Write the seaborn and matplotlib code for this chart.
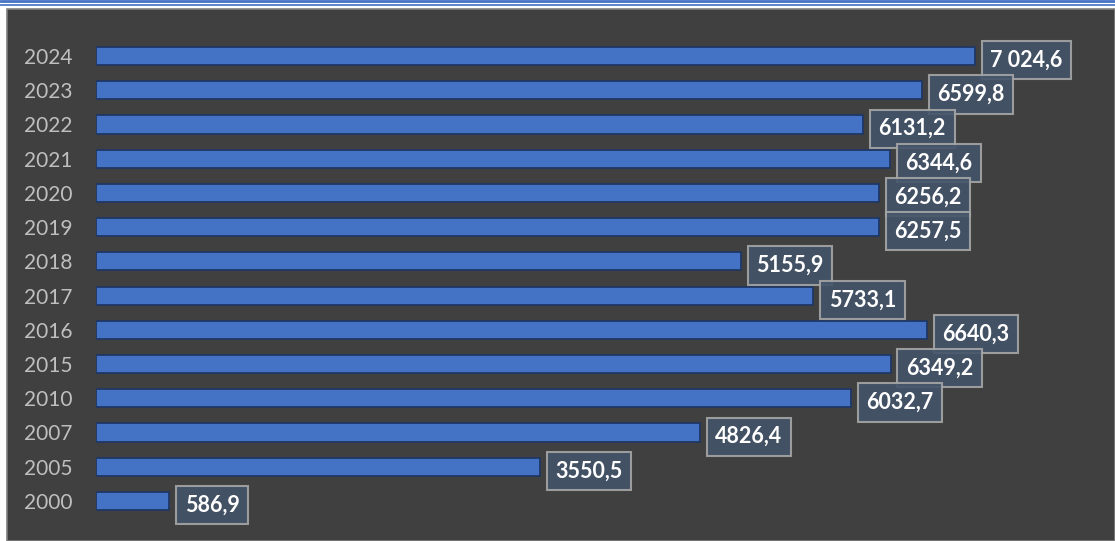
import pandas as pd
import seaborn as sns
import matplotlib.pyplot as plt
from matplotlib.patches import Rectangle
from matplotlib.lines import Line2D

# Data (top to bottom)
years = ['2024', '2023', '2022', '2021', '2020', '2019', '2018',
         '2017', '2016', '2015', '2010', '2007', '2005', '2000']
values = [7024.6, 6599.8, 6131.2, 6344.6, 6256.2, 6257.5, 5155.9,
          5733.1, 6640.3, 6349.2, 6032.7, 4826.4, 3550.5, 586.9]
labels = ['7 024,6', '6599,8', '6131,2', '6344,6', '6256,2', '6257,5', '5155,9',
          '5733,1', '6640,3', '6349,2', '6032,7', '4826,4', '3550,5', '586,9']

df = pd.DataFrame({'year': years, 'value': values})

sns.set_style('white')
plt.rcParams['font.family'] = ['Lato', 'DejaVu Sans']

W, H = 1115, 541
fig = plt.figure(figsize=(W / 100, H / 100), dpi=100, facecolor='white')

# dark panel + double blue line at the top
fig.add_artist(Rectangle((7 / W, 0), 1 - 7 / W, (H - 9) / H, transform=fig.transFigure,
                         facecolor='#404040', edgecolor='#7f7f7f', lw=1.2, zorder=0))
fig.add_artist(Line2D([0, 1], [1 - 1.2 / H, 1 - 1.2 / H], transform=fig.transFigure,
                      color='#4472C4', lw=2.0))
fig.add_artist(Line2D([0, 1], [1 - 5 / H, 1 - 5 / H], transform=fig.transFigure,
                      color='#4472C4', lw=1.2))

ax = fig.add_axes([96 / W, 0, 1 - 96 / W, (H - 10) / H])
ax.set_facecolor('none')

sns.barplot(data=df, x='value', y='year', order=years, orient='h', color='#4472C4',
            saturation=1, width=0.53, edgecolor='#1F3864', linewidth=1.3, ax=ax)

ax.set_xlim(0, 8143)
ax.set_ylim(14.17, -1.344)
for s in ax.spines.values():
    s.set_visible(False)
ax.set_xticks([])
ax.set_xlabel('')
ax.set_ylabel('')
ax.tick_params(axis='y', length=0, pad=17, labelsize=15, labelcolor='#BFBFBF')

texts = ax.bar_label(ax.containers[0], labels=labels, padding=11, fontsize=15.5,
                     fontweight='bold', color='white',
                     bbox=dict(boxstyle='square,pad=0.4', facecolor='#44546A', alpha=0.9,
                               edgecolor='#A6A6A6', lw=1.5))
for t in texts:
    t.xyann = (t.xyann[0], -3)

fig.savefig('out.png', dpi=100, facecolor='white')
